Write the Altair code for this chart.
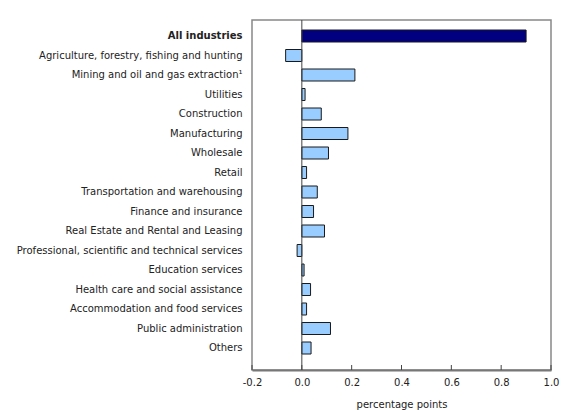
import altair as alt
import pandas as pd

industries = [
    "All industries",
    "Agriculture, forestry, fishing and hunting",
    "Mining and oil and gas extraction¹",
    "Utilities",
    "Construction",
    "Manufacturing",
    "Wholesale",
    "Retail",
    "Transportation and warehousing",
    "Finance and insurance",
    "Real Estate and Rental and Leasing",
    "Professional, scientific and technical services",
    "Education services",
    "Health care and social assistance",
    "Accommodation and food services",
    "Public administration",
    "Others",
]
values = [0.90, -0.065, 0.213, 0.013, 0.078, 0.185, 0.107, 0.019, 0.062,
          0.047, 0.091, -0.019, 0.009, 0.035, 0.019, 0.115, 0.037]
tick_values = [-0.2, 0.0, 0.2, 0.4, 0.6, 0.8, 1.0]

df = pd.DataFrame({"industry": industries, "value": values})
ticks_df = pd.DataFrame({"t": tick_values})

FONT = "DejaVu Sans"
W, H = 299, 350

xscale = alt.Scale(domain=[-0.2, 1.0], nice=False, zero=False)
yscale = alt.Scale(domain=industries, paddingInner=0.385, paddingOuter=0.667, align=0.385)

bars = alt.Chart(df).mark_bar(stroke="#1a1a1a", strokeWidth=1).encode(
    x=alt.X("value:Q", scale=xscale,
            axis=alt.Axis(values=tick_values, title="percentage points",
                          labelExpr="datum.value < 0 ? '-' + format(-datum.value, '.1f') : format(datum.value, '.1f')",
                          labelFlush=False, labelOverlap=False,
                          tickSize=0, labelPadding=7, domainColor="#777777", domainWidth=2,
                          grid=False, labelFont=FONT, labelFontSize=10, labelColor="#222222",
                          titleFont=FONT, titleFontSize=10, titleFontWeight="normal",
                          titleColor="#222222", titlePadding=12)),
    y=alt.Y("industry:N", sort=industries, scale=yscale,
            axis=alt.Axis(title=None, ticks=False, domain=False, labelPadding=10,
                          labelFont=FONT, labelFontSize=10, labelColor="#222222",
                          labelLimit=400,
                          labelFontWeight=alt.condition("datum.value == 'All industries'",
                                                        alt.value("bold"), alt.value("normal")))),
    color=alt.condition("datum.industry == 'All industries'",
                        alt.value("#000080"), alt.value("#99ccff")),
)

zero = alt.Chart(pd.DataFrame({"z": [0.0]})).mark_rule(color="#444444", strokeWidth=1).encode(
    x=alt.X("z:Q", scale=xscale)
)

ticks = alt.Chart(ticks_df).mark_rule(color="#444444", strokeWidth=1).encode(
    x=alt.X("t:Q", scale=xscale),
    y=alt.value(H - 5),
    y2=alt.value(H),
)

chart = alt.layer(bars, zero, ticks).properties(
    width=W, height=H, padding={"top": 11, "left": 8, "right": 5, "bottom": 5}
).configure_view(stroke="#888888", strokeWidth=1.5)

chart.save("out.html", embed_options={"renderer": "svg", "actions": False})
